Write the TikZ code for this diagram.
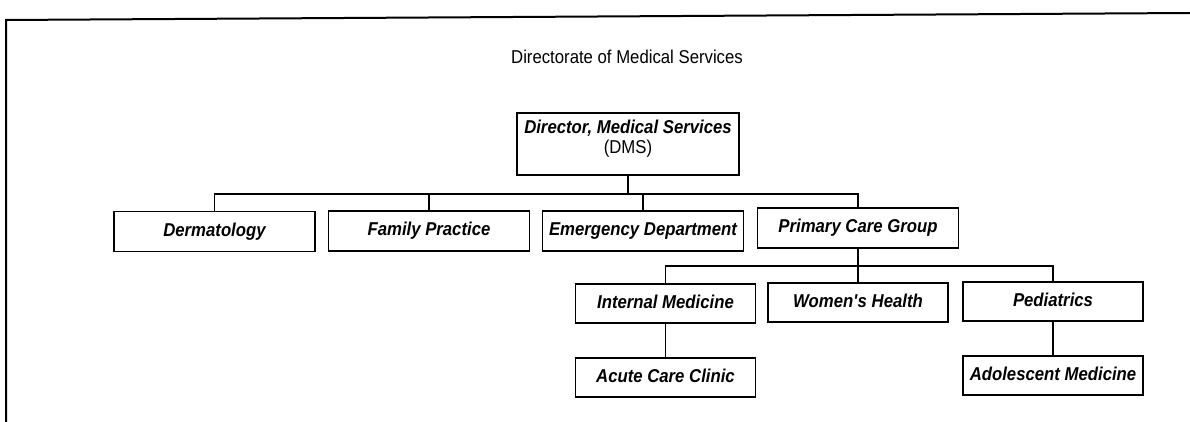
\documentclass[tikz,border=0pt]{standalone}
\usepackage{fontspec}
\setmainfont[FakeStretch=0.9]{Liberation Sans}
\usepackage{tikz}

\begin{document}
\begin{tikzpicture}[x=1pt, y=-1pt,
  unit/.style={draw, line width=1.8pt, minimum width=201pt, minimum height=40pt, inner sep=0pt,
    text height=13pt, text depth=4pt, font=\fontsize{18.6}{20}\selectfont\bfseries\itshape},
  subunit/.style={unit, minimum width=180pt, minimum height=39pt},
  link/.style={line width=1.6pt}]
\useasboundingbox (0,0) rectangle (1190,422);
\draw[line width=2pt] (6,422) -- (6,20) -- (1190,13);

\node[font=\fontsize{18.6}{20}\selectfont] (title) at (627,57) {Directorate of Medical Services};

\node[unit, minimum width=222pt, minimum height=62pt, align=center, text height=33pt, text depth=14pt] (dms) at (628,144)
  {Director, Medical Services\\{\normalfont (DMS)}};

\node[unit] (derm) at (214.5,231.5) {Dermatology};
\node[unit] (famp) at (429,231) {Family Practice};
\node[unit] (emer) at (643,231) {Emergency Department};
\node[unit] (pcg) at (858,228) {Primary Care Group};

\node[subunit] (intmed) at (665.5,303.5) {Internal Medicine};
\node[subunit] (women) at (858,302.5) {Women\textquotesingle s Health};
\node[subunit] (peds) at (1053,301.5) {Pediatrics};

\node[subunit] (acute) at (665.5,377.5) {Acute Care Clinic};
\node[subunit] (adol) at (1053,375.5) {Adolescent Medicine};

\foreach \c in {derm, famp, emer, pcg}
  \draw[link] (dms.south) -- ++(0,18) -| (\c.north);
\foreach \c in {intmed, women, peds}
  \draw[link] (pcg.south) -- ++(0,17) -| (\c.north);
\draw[link] (intmed.south) -- (acute.north);
\draw[link] (peds.south) -- (adol.north);

\end{tikzpicture}
\end{document}
